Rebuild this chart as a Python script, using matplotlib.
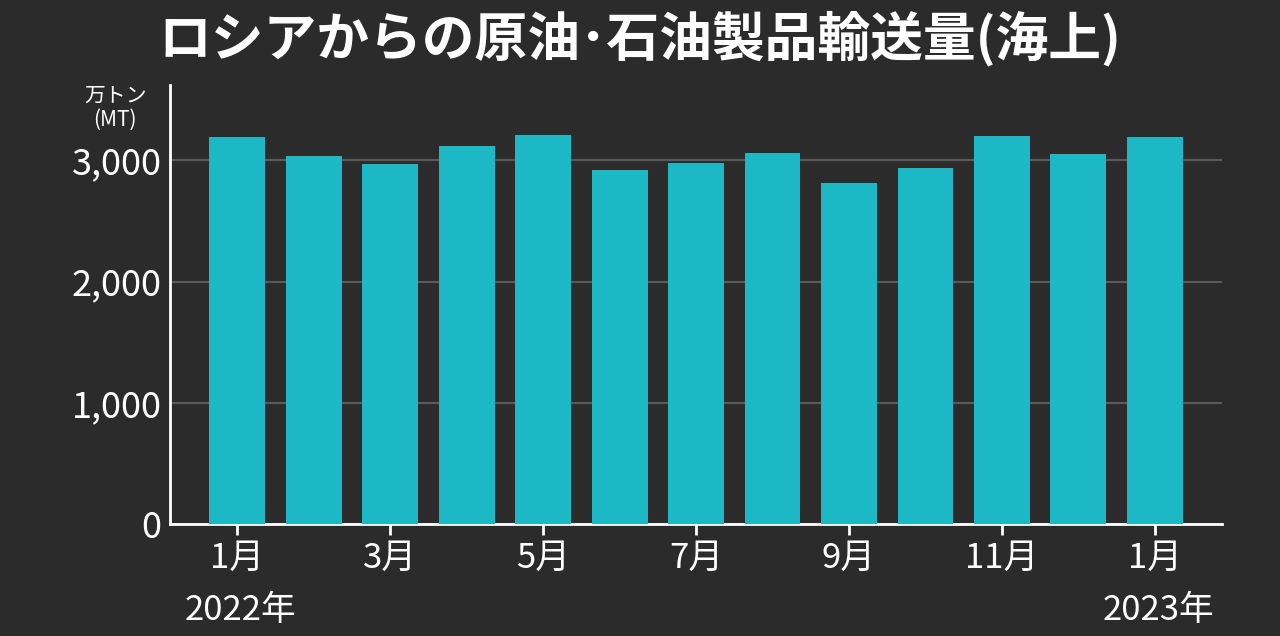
import matplotlib
matplotlib.use("Agg")
import matplotlib.pyplot as plt
import numpy as np

plt.rcParams['font.family'] = ['Noto Sans CJK JP', 'DejaVu Sans']

# monthly seaborne exports, 10k tonnes
months = ["1月", "2月", "3月", "4月", "5月", "6月", "7月", "8月", "9月", "10月", "11月", "12月", "1月"]
values = [3190, 3034, 2968, 3116, 3207, 2918, 2976, 3058, 2811, 2935, 3199, 3050, 3190]
tick_idx = [0, 2, 4, 6, 8, 10, 12]
yticks = [0, 1000, 2000, 3000]
ylabels = ["0", "1,000", "2,000", "3,000"]

bg = "#2b2b2b"
bar_color = "#1cb8c6"

fig = plt.figure(figsize=(12.8, 6.36), dpi=100)
fig.patch.set_facecolor(bg)
ax = fig.add_axes([0.1328, 0.176, 0.822, 0.69])
ax.set_facecolor(bg)

x = np.arange(len(values))
ax.bar(x, values, width=0.73, color=bar_color, zorder=3)

ax.set_xlim(-0.88, 12.88)
ax.set_ylim(0, 3620)
ax.set_yticks(yticks)
ax.set_yticklabels(ylabels, fontsize=26, color="white")
ax.set_xticks(tick_idx)
ax.set_xticklabels([months[i] for i in tick_idx], fontsize=25, color="white")
ax.tick_params(axis="x", length=8, width=2, color="white", pad=4)
ax.tick_params(axis="y", length=0, pad=6)
ax.grid(axis="y", color="#5a5a5a", linewidth=1.5, zorder=0)

for s in ["top", "right"]:
    ax.spines[s].set_visible(False)
for s in ["left", "bottom"]:
    ax.spines[s].set_color("white")
    ax.spines[s].set_linewidth(2)

fig.text(0.5, 0.94, "ロシアからの原油･石油製品輸送量(海上)", ha="center", va="center",
         fontsize=38, fontweight="bold", color="white")
fig.text(0.09, 0.83, "万トン\n(MT)", ha="center", va="center", fontsize=15,
         color="white", linespacing=1.1)
fig.text(0.188, 0.04, "2022年", ha="center", va="center", fontsize=25, color="white")
fig.text(0.905, 0.04, "2023年", ha="center", va="center", fontsize=25, color="white")

fig.savefig("out.png", dpi=100, facecolor=bg)
